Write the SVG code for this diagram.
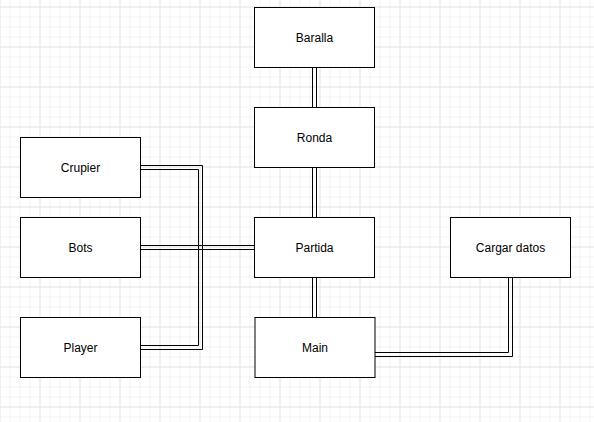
<svg xmlns="http://www.w3.org/2000/svg" width="594" height="422" viewBox="0 0 594 422">
  <defs>
    <pattern id="minor" x="0" y="7" width="10" height="10" patternUnits="userSpaceOnUse">
      <path d="M0.5,0 V10 M0,0.5 H10" fill="none" stroke="#f3f3f3" stroke-width="1"/>
    </pattern>
    <pattern id="major" x="0" y="7" width="40" height="40" patternUnits="userSpaceOnUse">
      <path d="M0.5,0 V40 M0,0.5 H40" fill="none" stroke="#e6e6e6" stroke-width="1"/>
    </pattern>
  </defs>
  <style>
    .box { fill: #ffffff; stroke: #000000; stroke-width: 1; }
    .lbl { font-family: "Liberation Sans", Arial, sans-serif; font-size: 12px; fill: #000000; text-anchor: middle; dominant-baseline: central; }
    .link { fill: none; stroke: #000000; stroke-width: 1; }
  </style>
  <rect width="594" height="422" fill="#ffffff"/>
  <rect x="-1" y="0" width="596" height="422" fill="url(#minor)" transform="translate(-0.5,-0.5)"/>
  <rect x="-1" y="0" width="596" height="422" fill="url(#major)" transform="translate(-0.5,-0.5)"/>

  <g id="connectors">
    <path class="link" d="M312.5,67.5 V107.5 M316.5,67.5 V107.5"/>
    <path class="link" d="M312.5,167.5 V217.5 M316.5,167.5 V217.5"/>
    <path class="link" d="M312.5,277.5 V317.5 M316.5,277.5 V317.5"/>
    <path class="link" d="M140.5,165.5 H202.5 V349.5 H140.5"/>
    <path class="link" d="M140.5,169.5 H198.5 V345.5 H140.5"/>
    <path class="link" d="M140.5,245.5 H254.5 M140.5,249.5 H254.5"/>
    <path class="link" d="M375,352.5 H508.5 V277.5"/>
    <path class="link" d="M375,356.5 H512.5 V277.5"/>
  </g>

  <g id="baralla">
    <rect class="box" x="254.5" y="7.5" width="120" height="60"/>
    <text class="lbl" x="314.5" y="37.5">Baralla</text>
  </g>
  <g id="ronda">
    <rect class="box" x="254.5" y="107.5" width="120" height="60"/>
    <text class="lbl" x="314.5" y="137.5">Ronda</text>
  </g>
  <g id="partida">
    <rect class="box" x="254.5" y="217.5" width="120" height="60"/>
    <text class="lbl" x="314.5" y="247.5">Partida</text>
  </g>
  <g id="main">
    <rect class="box" x="255" y="317.5" width="120" height="60"/>
    <text class="lbl" x="315" y="347.5">Main</text>
  </g>
  <g id="cargar-datos">
    <rect class="box" x="450.5" y="217.5" width="120" height="60"/>
    <text class="lbl" x="510.5" y="247.5">Cargar datos</text>
  </g>
  <g id="crupier">
    <rect class="box" x="20.5" y="137.5" width="120" height="60"/>
    <text class="lbl" x="80.5" y="167.5">Crupier</text>
  </g>
  <g id="bots">
    <rect class="box" x="20.5" y="217.5" width="120" height="60"/>
    <text class="lbl" x="80.5" y="247.5">Bots</text>
  </g>
  <g id="player">
    <rect class="box" x="20.5" y="317.5" width="120" height="60"/>
    <text class="lbl" x="80.5" y="347.5">Player</text>
  </g>
</svg>
